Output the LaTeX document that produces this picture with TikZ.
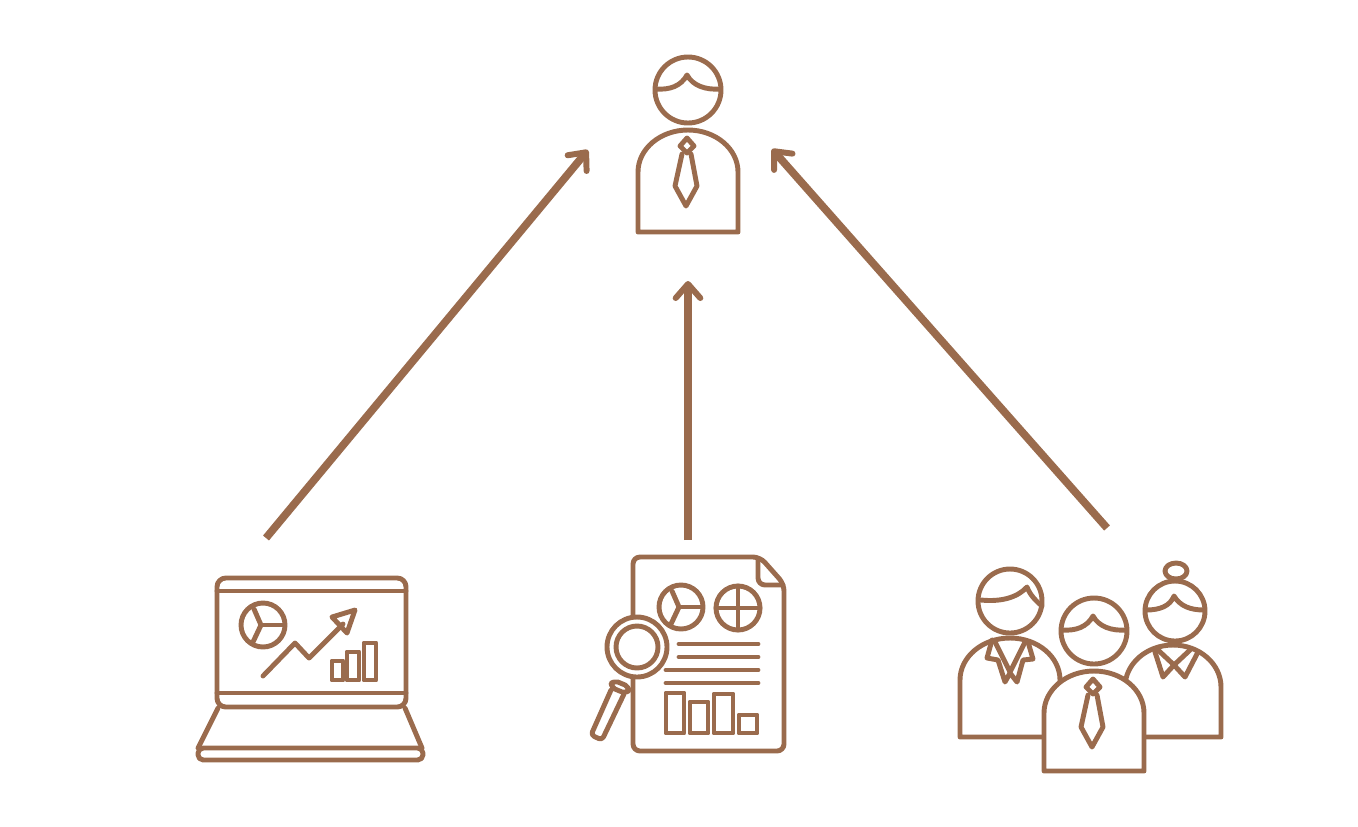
\documentclass[tikz,border=0pt]{standalone}
\usepackage{xcolor}
\usepackage{tikz}
\usetikzlibrary{arrows.meta}
\definecolor{iconbrown}{RGB}{154, 107, 77}
\tikzset{
    icon/.style={draw=iconbrown, line width=2.8pt, line join=round, line cap=round},
    flow/.style={draw=iconbrown, line width=4.4pt, -{Straight Barb[length=8pt, width=14pt, line width=3.4pt, round]}}
}
\newcommand{\tiedman}[3]{
\begin{scope}[shift={(#1,#2)}]
    \draw[icon] (688,90) circle (33);
    \draw[icon] (656,89) .. controls (670,90) and (681,86) .. (687,75) .. controls (693,86) and (706,90) .. (720,89);
    \draw[icon, fill=white] (638,#3) -- (638,172) arc[start angle=180, end angle=360, x radius=50, y radius=42] -- (738,#3) -- cycle;
    \draw[icon] (687,138) -- (694,146) -- (687,153) -- (680,146) -- cycle;
    \draw[icon] (682,154) -- (675,186) -- (686,206) -- (697,186) -- (691,154);
\end{scope}
}
\newcommand{\piechart}[2]{
\draw[icon] (#1,#2) circle (22);
\draw[icon] (#1-2,#2) -- (#1-9,#2-16);
\draw[icon] (#1-2,#2) -- (#1+20,#2);
\draw[icon] (#1-2,#2) -- (#1-10,#2+17);
}

\begin{document}
\begin{tikzpicture}[x=0.02cm, y=-0.02cm]
    \useasboundingbox (0,0) rectangle (1358,826);
    \coordinate (laptopout) at (266,538);
    \coordinate (reportout) at (688,540);
    \coordinate (teamout) at (1107,528);
    \coordinate (managerleft) at (588,150);
    \coordinate (managerbelow) at (688,281);
    \coordinate (managerright) at (772,149);

    % manager
    \tiedman{0}{0}{232}

    % laptop
    \draw[icon, rounded corners=5] (217,578) rectangle (406,707);
    \draw[icon] (217,591) -- (406,591);
    \draw[icon] (217,693) -- (406,693);
    \draw[icon] (218,708) -- (198,748);
    \draw[icon] (405,708) -- (422,748);
    \draw[icon, rounded corners=3] (198,748) rectangle (423,760);
    \piechart{263}{625}
    \draw[icon] (263,676) -- (295,643) -- (309,658) -- (343,624);
    \draw[icon] (332,617) -- (355,610) -- (347,633) -- cycle;
    \foreach \xa/\xb/\ytop in {332/343/661, 347/359/652, 364/376/643}
    {
        \draw[icon] (\xa,\ytop) rectangle (\xb,680);
    }

    % report
    \draw[icon, rounded corners=4] (633,616) -- (633,557) -- (760,557) -- (784,584) -- (784,751) -- (633,751) -- (633,678);
    \draw[icon, rounded corners=4] (758,560) -- (758,585) -- (783,585);
    \piechart{681}{607}
    \draw[icon] (738,608) circle (22);
    \draw[icon] (716,608) -- (760,608);
    \draw[icon] (738,586) -- (738,630);
    \foreach \xa/\yline in {679/644, 679/657, 666/670, 666/683}
    {
        \draw[icon] (\xa,\yline) -- (758,\yline);
    }
    \foreach \xa/\xb/\ytop in {666/684/693, 690/708/702, 714/733/694, 739/757/715}
    {
        \draw[icon] (\xa,\ytop) rectangle (\xb,733);
    }
    \draw[icon] (637,647) circle (30);
    \draw[icon] (637,647) circle (21);
    \draw[icon, rounded corners=3] (613,680) -- (630,687) -- (627,694) -- (610,687) -- cycle;
    \draw[icon, rounded corners=2] (611,690) -- (591,735) -- (602,740) -- (624,694);

    % team
    \draw[icon] (1010,601) circle (32);
    \draw[icon] (981,600) .. controls (1000,602) and (1017,598) .. (1027,587) .. controls (1030,595) and (1036,601) .. (1042,606);
    \draw[icon, fill=white] (960,737) -- (960,680) arc[start angle=180, end angle=360, x radius=50, y radius=42] -- (1060,737) -- cycle;
    \draw[icon] (992,640) -- (987,658) -- (998,660) -- (1005,682) -- (1010,673) -- (1017,682) -- (1023,660) -- (1033,659) -- (1028,642);
    \draw[icon] (995,642) -- (1010,672) -- (1025,642);

    \draw[icon] (1175,611) circle (30);
    \draw[icon] (1176,571) ellipse (11 and 8);
    \draw[icon] (1146,610) .. controls (1160,610) and (1170,606) .. (1174,596) .. controls (1180,606) and (1190,610) .. (1204,610);
    \draw[icon, fill=white] (1125,737) -- (1125,687) arc[start angle=180, end angle=360, x radius=48, y radius=42] -- (1221,737) -- cycle;
    \draw[icon] (1155,652) -- (1163,677) -- (1174,665) -- (1185,677) -- (1198,652);
    \draw[icon] (1158,650) -- (1174,665) -- (1190,650);

    \tiedman{406}{541}{230}

    % arrows
    \draw[flow] (laptopout) -- (managerleft);
    \draw[flow] (reportout) -- (managerbelow);
    \draw[flow] (teamout) -- (managerright);
\end{tikzpicture}
\end{document}
